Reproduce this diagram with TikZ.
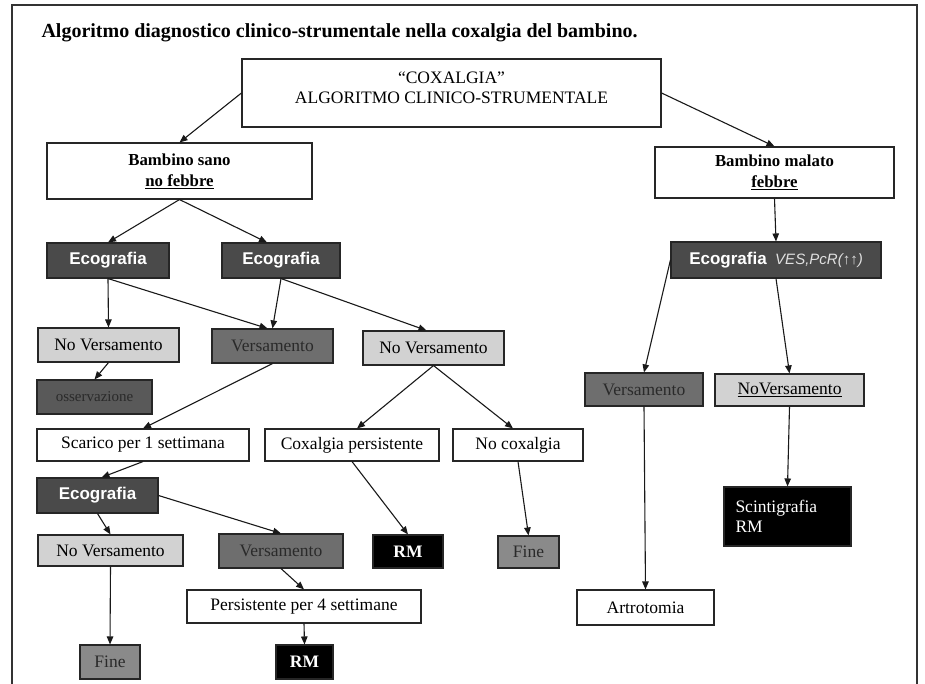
\documentclass[tikz,border=0pt]{standalone}
\usepackage{fontspec}
\setmainfont{Liberation Serif}
\setsansfont{Liberation Sans}
\usepackage{tikz}
\usetikzlibrary{positioning,arrows.meta}
\usepackage{xcolor}

\definecolor{darkbox}{HTML}{4A4A4A}
\definecolor{midbox}{HTML}{6E6E6E}
\definecolor{finebox}{HTML}{8A8A8A}
\definecolor{lightbox}{HTML}{D2D2D2}
\definecolor{dimtext}{HTML}{2A2A2A}

\begin{document}
\begin{tikzpicture}[
        x=1pt, y=-1pt,
        box/.style={rectangle, draw=black!85, line width=1.1pt, inner sep=0pt, align=center, fill=white, font=\fontsize{17.5}{20}\selectfont},
        lbox/.style={box, fill=lightbox},
        dbox/.style={box, fill=darkbox, text=white, font=\fontsize{17}{20}\selectfont\sffamily\bfseries},
        mbox/.style={box, fill=midbox, text=dimtext},
        fbox/.style={box, fill=finebox, text=dimtext},
        kbox/.style={box, fill=black, text=white},
        arrow/.style={-{Triangle[length=8pt,width=6.5pt]}, line width=1.1pt, draw=black!90}
    ]
        \useasboundingbox (0,0) rectangle (925,684);
        % Frame
        \draw[line width=2.4pt, black!80] (12,690) -- (12,5) -- (917,5) -- (917,690);
        \node[anchor=west, font=\fontsize{20}{23}\selectfont\bfseries] (title) at (38,33) {Algoritmo diagnostico clinico-strumentale nella coxalgia del bambino.};

        % Top
        \node[box, minimum width=419, minimum height=68, font=\fontsize{17.5}{20}\selectfont] (cox) at (451.5,93) {“COXALGIA”\\ALGORITMO CLINICO-STRUMENTALE\\[-10pt]\mbox{}};

        % Left branch: bambino sano
        \node[box, minimum width=265, minimum height=56, font=\fontsize{16.8}{21}\selectfont\bfseries] (sano) at (179.5,171) {Bambino sano\\\underline{no febbre}};
        \node[dbox, minimum width=122, minimum height=35] (ecoA) at (108,260.5) {Ecografia};
        \node[dbox, minimum width=118, minimum height=35] (ecoB) at (281,260.5) {Ecografia};
        \node[lbox, minimum width=141, minimum height=34] (noversA) at (108.5,345) {No Versamento};
        \node[mbox, minimum width=121, minimum height=34] (versA) at (272.5,346) {Versamento};
        \node[lbox, minimum width=141, minimum height=34] (noversB) at (433.5,348) {No Versamento};
        \node[mbox, fill=black!65, minimum width=115, minimum height=34, font=\fontsize{15}{18}\selectfont] (osserv) at (94.5,397) {osservazione};
        \node[box, minimum width=212, minimum height=32] (scarico) at (143,445) {Scarico per 1 settimana};
        \node[box, minimum width=174, minimum height=32] (coxpers) at (352,445) {Coxalgia persistente};
        \node[box, minimum width=130, minimum height=32] (nocox) at (518,445) {No coxalgia};
        \node[dbox, minimum width=121, minimum height=35] (ecoC) at (97.5,495.5) {Ecografia};
        \node[lbox, minimum width=145, minimum height=31] (noversC) at (110.5,550.5) {No Versamento};
        \node[mbox, minimum width=124, minimum height=34] (versB) at (281,551) {Versamento};
        \node[kbox, minimum width=70, minimum height=33, font=\fontsize{17.5}{20}\selectfont\bfseries] (rmA) at (408,551.5) {RM};
        \node[fbox, minimum width=61, minimum height=32] (fineA) at (528.5,552) {Fine};
        \node[box, minimum width=234, minimum height=33] (persist) at (304,606.5) {Persistente per 4 settimane};
        \node[fbox, minimum width=60, minimum height=34] (fineB) at (110,662) {Fine};
        \node[kbox, minimum width=57, minimum height=34, font=\fontsize{17.5}{20}\selectfont\bfseries] (rmB) at (304.5,662) {RM};

        % Right branch: bambino malato
        \node[box, minimum width=239, minimum height=51, font=\fontsize{16.8}{21}\selectfont\bfseries] (malato) at (774.5,172.5) {Bambino malato\\\underline{febbre}};
        \node[dbox, minimum width=210, minimum height=36] (ecoR) at (776,260) {Ecografia\enspace{\mdseries\itshape\fontsize{15}{17}\selectfont\color{black!12}VES,PcR(↑↑)}};
        \node[mbox, minimum width=118, minimum height=33] (versR) at (644,389.5) {Versamento};
        \node[lbox, minimum width=149, minimum height=32] (noversR) at (789.5,390) {\underline{NoVersamento}};
        \node[kbox, minimum width=127, minimum height=59, align=left, text width=104] (scint) at (787.5,516.5) {Scintigrafia\\RM};
        \node[box, minimum width=137, minimum height=35] (artro) at (645.5,607.5) {Artrotomia};

        % Arrows
        \draw[arrow] (cox.west) -- (sano.north);
        \draw[arrow] (cox.east) -- (malato.north);
        \draw[arrow] (sano.south) -- (ecoA.north);
        \draw[arrow] (sano.south) -- ([xshift=-14pt]ecoB.north);
        \draw[arrow] (ecoA.south) -- (noversA.north);
        \draw[arrow] (ecoA.south) -- ([xshift=-5pt]versA.north);
        \draw[arrow] (ecoB.south) -- (versA.north);
        \draw[arrow] (ecoB.south) -- ([xshift=-7pt]noversB.north);
        \draw[arrow] (noversA.south) -- (osserv.north);
        \draw[arrow] (versA.south) -- (scarico.north);
        \draw[arrow] (noversB.south) -- ([xshift=5pt]coxpers.north);
        \draw[arrow] (noversB.south) -- ([xshift=-5pt]nocox.north);
        \draw[arrow] (scarico.south) -- ([xshift=4pt]ecoC.north);
        \draw[arrow] (ecoC.south) -- (noversC.north);
        \draw[arrow] (ecoC.east) -- (versB.north);
        \draw[arrow] (coxpers.south) -- (rmA.north);
        \draw[arrow] (nocox.south) -- (fineA.north);
        \draw[arrow] (noversC.south) -- (fineB.north);
        \draw[arrow] (versB.south) -- (persist.north);
        \draw[arrow] (persist.south) -- (rmB.north);
        \draw[arrow] (malato.south) -- (ecoR.north);
        \draw[arrow] (ecoR.west) -- (versR.north);
        \draw[arrow] (ecoR.south) -- (noversR.north);
        \draw[arrow] (noversR.south) -- (scint.north);
        \draw[arrow] (versR.south) -- (artro.north);
    \end{tikzpicture}
\end{document}
